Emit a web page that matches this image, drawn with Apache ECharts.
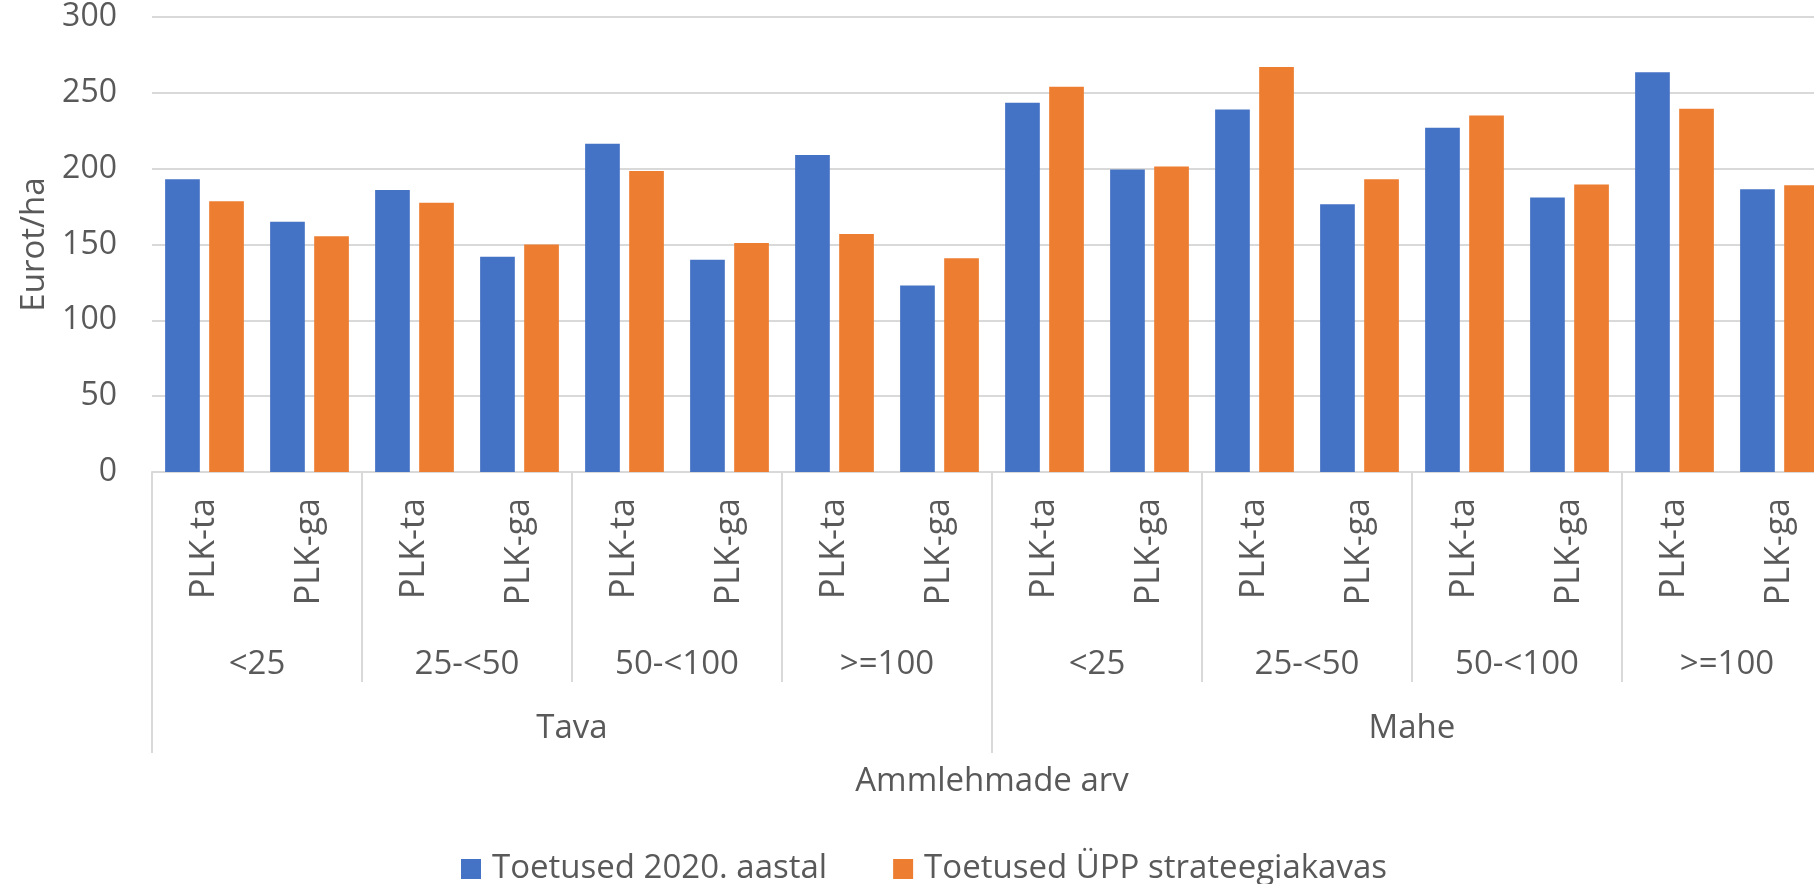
<!DOCTYPE html>
<html>
<head>
<meta charset="utf-8">
<script src="https://cdn.jsdelivr.net/npm/echarts@6/dist/echarts.min.js"></script>
<style>
  html,body{margin:0;padding:0;background:#fff;}
  #chart{width:1814px;height:884px;}
</style>
</head>
<body>
<div id="chart"></div>
<script>
// andmed
var groups = ['Tava', 'Mahe'];
var sizes = ['<25', '25-<50', '50-<100', '>=100'];
var subs = ['PLK-ta', 'PLK-ga'];
var toetused2020 = [193, 165, 186, 142, 216.5, 140, 209, 123, 243.5, 199.5, 239, 176.5, 227, 181, 263.5, 186.5];
var toetusedUPP = [178.5, 155.5, 177.5, 150, 198.5, 151, 157, 141, 254, 201.5, 267, 193, 235, 189.5, 239.5, 189];
var yTicks = {min: 0, max: 300, step: 50};

var txt = '#595959';
var grey = '#d9d9d9';
var font = 'Open Sans';

// kategooriad kolmel tasemel
var subCats = [], sizeCats = [];
for (var g = 0; g < groups.length; g++) {
  for (var s = 0; s < sizes.length; s++) {
    sizeCats.push(sizes[s]);
    for (var k = 0; k < subs.length; k++) subCats.push(subs[k]);
  }
}

var myChart = echarts.init(document.getElementById('chart'));
var option = {
  animation: false,
  textStyle: {fontFamily: font},
  // joonis jatkub paremalt servast välja nagu originaalis
  grid: {left: 152, width: 1680, top: 17, bottom: 412, containLabel: false, outerBoundsMode: 'none'},
  legend: {
    data: ['Toetused 2020. aastal', 'Toetused ÜPP strateegiakavas'],
    left: 456, top: 844,
    icon: 'rect', itemWidth: 20, itemHeight: 20, itemGap: 66,
    textStyle: {fontSize: 33, color: txt, fontFamily: font, lineHeight: 40, padding: [0, 0, 0, 6]}
  },
  xAxis: [
    {
      type: 'category', data: subCats, position: 'bottom',
      axisLine: {show: true, lineStyle: {color: grey, width: 2}},
      // eraldusjoon ainult iga paari ees
      axisTick: {show: true, interval: function(i){ return i % 2 === 0; }, length: 210, lineStyle: {color: grey, width: 2}},
      axisLabel: {interval: 0, rotate: 90, margin: 26, fontSize: 34, color: txt, fontFamily: font}
    },
    {
      type: 'category', data: sizeCats, position: 'bottom',
      axisLine: {show: false}, axisTick: {show: false},
      axisLabel: {interval: 0, margin: 173, fontSize: 33, lineHeight: 40, color: txt, fontFamily: font}
    },
    {
      type: 'category', data: groups, position: 'bottom',
      axisLine: {show: false},
      axisTick: {show: true, interval: 0, length: 281, lineStyle: {color: grey, width: 2}},
      axisLabel: {interval: 0, margin: 237, fontSize: 33, lineHeight: 40, color: txt, fontFamily: font},
      name: 'Ammlehmade arv', nameLocation: 'middle', nameGap: 290,
      nameTextStyle: {fontSize: 33, lineHeight: 40, color: txt, fontFamily: font}
    }
  ],
  yAxis: {
    type: 'value', min: yTicks.min, max: yTicks.max, interval: yTicks.step,
    axisLine: {show: false}, axisTick: {show: false},
    axisLabel: {margin: 35, fontSize: 32, color: txt, fontFamily: font},
    splitLine: {lineStyle: {color: grey, width: 2}},
    name: 'Eurot/ha', nameLocation: 'middle', nameGap: 100,
    nameTextStyle: {fontSize: 33, color: txt, fontFamily: font}
  },
  series: [
    {
      name: 'Toetused 2020. aastal', type: 'bar', xAxisIndex: 0,
      data: toetused2020, barCategoryGap: '25%', barGap: '27%',
      itemStyle: {color: '#4472C4'}
    },
    {
      name: 'Toetused ÜPP strateegiakavas', type: 'bar', xAxisIndex: 0,
      data: toetusedUPP, barCategoryGap: '25%', barGap: '27%',
      itemStyle: {color: '#ED7D31'}
    }
  ]
};
myChart.setOption(option);
</script>
</body>
</html>
